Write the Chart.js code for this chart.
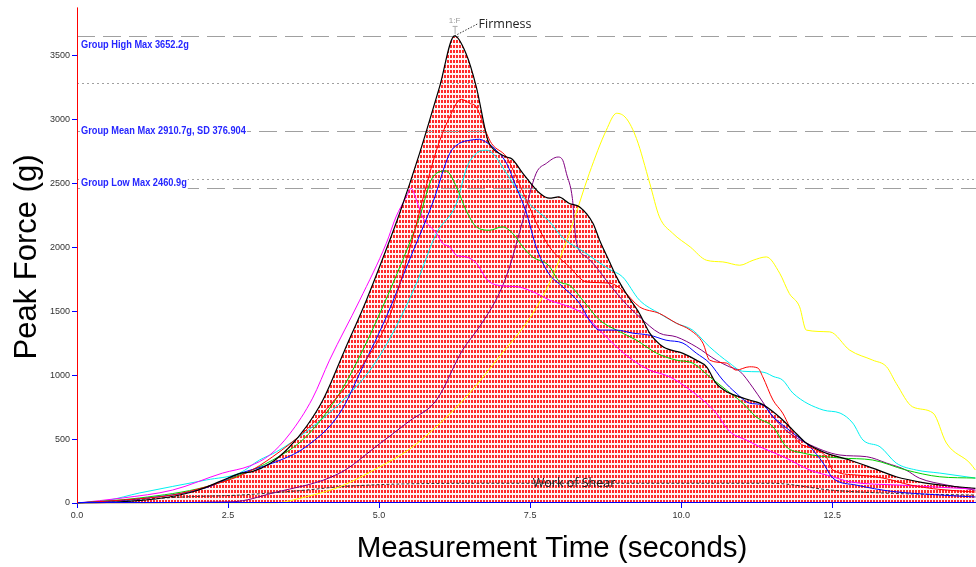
<!DOCTYPE html>
<html>
<head>
<meta charset="utf-8">
<script src="https://cdn.jsdelivr.net/npm/chart.js@4.4.1/dist/chart.umd.min.js"></script>
<style>
  html, body { margin: 0; padding: 0; background: #fff; }
  #wrap { width: 976px; height: 567px; position: relative; }
</style>
</head>
<body>
<div id="wrap"><canvas id="forceChart"></canvas></div>
<script>
// Group statistics (g)
const groupHigh = 3652.2;
const groupMean = 2910.7;
const groupSD = 376.904;
const groupLow = 2460.9;

// Force curves: [time (s), force (g)]
const blackCurve = [[0,0],[0.5,4],[1.0,18],[1.5,45],[2.0,100],[2.4,175],[2.7,232],[2.9,245],[3.2,310],[3.5,430],[3.8,600],[4.07,805],[4.43,1195],[4.79,1586],[5.1,1960],[5.34,2266],[5.67,2734],[6.0,3252],[6.25,groupHigh],[6.44,3513],[6.61,3252],[6.8,2836],[6.88,2773],[7.0,2730],[7.11,2705],[7.2,2690],[7.38,2578],[7.66,2422],[7.82,2383],[7.97,2393],[8.15,2342],[8.32,2315],[8.54,2187],[8.65,2055],[8.82,1880],[8.93,1768],[9.09,1638],[9.31,1482],[9.48,1328],[9.7,1221],[10.03,1170],[10.25,1117],[10.42,1065],[10.58,935],[10.8,859],[10.97,830],[11.13,805],[11.3,781],[11.41,752],[11.63,670],[11.85,570],[12.07,469],[12.4,390],[12.79,336],[13.17,273],[13.56,205],[14.0,160],[14.4,135],[14.87,115]];
const redCurve = [[0,0],[0.75,23],[1.58,62],[2.14,127],[2.8,234],[3.24,362],[3.79,570],[4.29,820],[4.73,1080],[5.17,1455],[5.5,1977],[5.95,2758],[6.15,3000],[6.36,3156],[6.5,3125],[6.61,3096],[6.78,2890],[6.86,2812],[7.11,2705],[7.22,2602],[7.44,2367],[7.66,2133],[7.82,2002],[8.15,1846],[8.43,1729],[8.82,1719],[9.03,1664],[9.31,1534],[9.64,1482],[9.92,1406],[10.15,1352],[10.36,1250],[10.47,1117],[10.75,1094],[10.91,1039],[11.13,1065],[11.27,1055],[11.35,987],[11.52,805],[11.68,703],[11.91,492],[12.24,414],[12.4,362],[12.51,258],[12.9,219],[13.34,195],[13.8,140],[14.3,105],[14.87,86]];
const greenCurve = [[0,0],[1.03,39],[2.14,127],[2.69,219],[3.24,336],[3.79,518],[4.35,860],[4.73,1195],[5.06,1534],[5.39,1898],[5.67,2237],[5.89,2549],[6.11,2596],[6.28,2471],[6.44,2289],[6.61,2159],[6.83,2133],[7.04,2159],[7.21,2109],[7.38,2002],[7.54,1924],[7.8,1860],[7.99,1729],[8.15,1703],[8.37,1586],[8.65,1430],[8.93,1352],[9.26,1273],[9.59,1172],[9.92,1117],[10.19,1094],[10.47,987],[10.75,883],[11.02,781],[11.24,674],[11.52,596],[11.74,440],[12.02,390],[12.63,352],[13.17,336],[13.72,258],[14.28,205],[14.87,195]];
const blueCurve = [[0,0],[1.0,30],[2.14,120],[2.69,230],[3.24,312],[3.79,440],[4.35,703],[4.73,1065],[5.12,1455],[5.5,1898],[5.89,2350],[6.17,2734],[6.33,2812],[6.5,2836],[6.66,2844],[6.8,2812],[6.94,2758],[7.11,2656],[7.27,2471],[7.44,2266],[7.6,2002],[7.8,1800],[8.04,1690],[8.32,1560],[8.48,1430],[8.65,1352],[8.93,1352],[9.2,1328],[9.48,1312],[9.75,1273],[10.03,1250],[10.25,1172],[10.47,1094],[10.69,961],[10.91,859],[11.13,781],[11.35,766],[11.52,674],[11.85,547],[12.13,440],[12.35,312],[12.51,195],[12.9,140],[13.5,90],[14.2,65],[14.87,47]];
const cyanCurve = [[0,0],[0.5,20],[1.03,78],[2.14,180],[2.69,234],[3.02,336],[3.3,400],[3.8,560],[4.46,830],[4.89,1065],[5.28,1377],[5.62,1719],[5.95,2109],[6.28,2340],[6.45,2620],[6.61,2734],[6.78,2758],[6.88,2734],[7.11,2578],[7.33,2422],[7.54,2315],[7.8,2210],[8.05,2070],[8.4,1960],[8.8,1830],[9.03,1768],[9.31,1586],[9.64,1482],[9.92,1406],[10.19,1352],[10.47,1221],[10.8,1094],[11.02,1030],[11.3,1026],[11.41,1016],[11.52,990],[11.68,961],[11.85,859],[12.35,727],[12.63,703],[12.84,625],[13.01,492],[13.29,440],[13.56,312],[13.89,258],[14.28,234],[14.87,195]];
const magentaCurve = [[0,0],[0.75,39],[1.58,101],[2.41,234],[2.86,290],[3.19,375],[3.52,540],[3.9,820],[4.18,1117],[4.68,1586],[5.12,2031],[5.28,2237],[5.45,2393],[5.53,2461],[5.62,2367],[5.72,2237],[5.95,2109],[6.05,2031],[6.17,2002],[6.28,1937],[6.44,1924],[6.61,1875],[6.8,1740],[7.0,1700],[7.3,1690],[7.6,1640],[7.82,1586],[8.15,1534],[8.37,1482],[8.65,1352],[8.93,1221],[9.2,1117],[9.48,1039],[9.81,987],[10.15,883],[10.36,805],[10.58,703],[10.8,560],[11.08,492],[11.3,440],[11.7,360],[12.13,258],[12.51,205],[12.79,166],[13.61,140],[14.87,109]];
const purpleCurve = [[0,0],[2.58,10],[3.24,78],[4.35,234],[5.0,460],[5.5,640],[5.95,805],[6.38,1195],[6.66,1377],[7.0,1650],[7.16,1846],[7.38,2211],[7.6,2578],[7.77,2656],[7.96,2705],[8.04,2680],[8.1,2578],[8.2,2380],[8.26,2055],[8.43,1924],[8.54,1875],[8.76,1742],[9.03,1586],[9.31,1455],[9.64,1328],[9.92,1299],[10.25,1221],[10.58,1117],[10.8,1065],[10.97,1030],[11.19,900],[11.35,790],[11.52,674],[11.79,547],[12.07,469],[12.63,375],[13.07,362],[13.4,312],[13.72,258],[13.94,195],[14.4,140],[14.87,100]];
const yellowCurve = [[0,0],[3.24,0],[3.8,50],[4.35,127],[5.0,280],[5.5,420],[6.0,620],[6.5,860],[7.0,1150],[7.5,1450],[7.82,1719],[8.15,2109],[8.48,2578],[8.76,2914],[8.93,3047],[9.09,3008],[9.26,2850],[9.48,2500],[9.64,2237],[9.86,2109],[10.15,2002],[10.42,1898],[10.69,1885],[10.97,1859],[11.19,1898],[11.41,1924],[11.63,1797],[11.79,1638],[11.96,1534],[12.07,1352],[12.46,1338],[12.79,1195],[13.17,1117],[13.4,1065],[13.56,935],[13.83,752],[14.17,703],[14.39,469],[14.78,312],[14.87,258]];
const shearCurve = [[0,0],[0.37,10],[1.86,49],[2.69,62],[3.79,101],[4.35,127],[5.5,150],[7.0,154],[11.5,154],[12.5,100],[13.5,75],[14.87,62]];

// Axis settings
const timeMax = 14.88;
const forceMax = 3875;
const timeStep = 2.5;
const forceStep = 500;

const toXY = arr => arr.map(p => ({ x: p[0], y: p[1] }));

// Red dotted hatch used under the main curve
const canvas = document.getElementById('forceChart');
const hatchCanvas = document.createElement('canvas');
hatchCanvas.width = 3;
hatchCanvas.height = 5;
const hctx = hatchCanvas.getContext('2d');
hctx.fillStyle = '#fff4f4';
hctx.fillRect(0, 0, 3, 5);
hctx.fillStyle = '#ff2a2a';
hctx.fillRect(0, 0, 2, 3);
const hatch = canvas.getContext('2d').createPattern(hatchCanvas, 'repeat');

function curve(data, color, order, width) {
    return {
        data: toXY(data),
        borderColor: color,
        borderWidth: width || 1,
        pointRadius: 0,
        fill: false,
        cubicInterpolationMode: 'monotone',
        order: order
    };
}

function refLine(ctx, area, y, dash) {
    const yy = Math.round(y) + 0.5;
    ctx.save();
    ctx.strokeStyle = '#a0a0a0';
    ctx.lineWidth = 1;
    ctx.setLineDash(dash);
    ctx.beginPath();
    ctx.moveTo(area.left, yy);
    ctx.lineTo(area.right, yy);
    ctx.stroke();
    ctx.restore();
}

function groupLabel(ctx, text, x, y) {
    ctx.save();
    ctx.font = 'bold 11px "Liberation Sans", Arial, sans-serif';
    const w = ctx.measureText(text).width * 0.84;
    ctx.fillStyle = '#fff';
    ctx.fillRect(x - 1, y - 6, w + 2, 12);
    ctx.translate(x, y);
    ctx.scale(0.84, 1);
    ctx.fillStyle = '#2626ff';
    ctx.textBaseline = 'middle';
    ctx.fillText(text, 0, 0);
    ctx.restore();
}

const overlay = {
    id: 'overlay',
    afterDatasetDraw(chart, args) {
        if (args.index !== 0) return;
        const ctx = chart.ctx, area = chart.chartArea, ys = chart.scales.y;
        refLine(ctx, area, ys.getPixelForValue(groupHigh), [18, 8]);
        refLine(ctx, area, ys.getPixelForValue(groupMean + groupSD), [2, 3]);
        refLine(ctx, area, ys.getPixelForValue(groupMean), [18, 8]);
        refLine(ctx, area, ys.getPixelForValue(groupMean - groupSD), [2, 3]);
        refLine(ctx, area, ys.getPixelForValue(groupLow), [18, 8]);
    },
    afterDraw(chart) {
        const ctx = chart.ctx, area = chart.chartArea;
        const xs = chart.scales.x, ys = chart.scales.y;
        const lx = area.left + 4;

        // axis lines: red force axis, blue time axis
        ctx.save();
        ctx.lineWidth = 1;
        ctx.strokeStyle = '#0000ff';
        ctx.beginPath();
        ctx.moveTo(area.left, Math.floor(area.bottom) - 0.5);
        ctx.lineTo(area.right, Math.floor(area.bottom) - 0.5);
        ctx.stroke();
        ctx.strokeStyle = '#ff0000';
        ctx.beginPath();
        ctx.moveTo(Math.floor(area.left) + 0.5, area.top);
        ctx.lineTo(Math.floor(area.left) + 0.5, area.bottom);
        ctx.stroke();
        ctx.restore();

        groupLabel(ctx, 'Group High Max ' + groupHigh.toFixed(1) + 'g', lx, ys.getPixelForValue(groupHigh) + 9);
        groupLabel(ctx, 'Group Mean Max ' + groupMean.toFixed(1) + 'g, SD ' + groupSD.toFixed(3), lx, ys.getPixelForValue(groupMean));
        groupLabel(ctx, 'Group Low Max ' + groupLow.toFixed(1) + 'g', lx, ys.getPixelForValue(groupLow) - 5);

        // Firmness marker at the peak
        const px = xs.getPixelForValue(6.25), py = ys.getPixelForValue(groupHigh);
        ctx.save();
        ctx.fillStyle = '#999';
        ctx.font = '8px "Liberation Sans", Arial, sans-serif';
        ctx.textAlign = 'center';
        ctx.textBaseline = 'middle';
        ctx.fillText('1:F', px, py - 15);
        ctx.strokeStyle = '#aaa';
        ctx.beginPath();
        ctx.moveTo(px + 0.5, py - 9);
        ctx.lineTo(px + 0.5, py - 2);
        ctx.moveTo(px - 2, py - 9.5);
        ctx.lineTo(px + 3, py - 9.5);
        ctx.stroke();
        ctx.strokeStyle = '#333';
        ctx.setLineDash([1.5, 1.5]);
        ctx.beginPath();
        ctx.moveTo(px, py);
        ctx.lineTo(px + 23, py - 12);
        ctx.stroke();
        ctx.setLineDash([]);
        ctx.fillStyle = '#222';
        ctx.textAlign = 'left';
        ctx.font = '12.5px "Open Sans", "Liberation Sans", sans-serif';
        ctx.fillText('Firmness', px + 24, py - 11);

        // Work of shear label
        ctx.font = '12.5px "Open Sans", "Liberation Sans", sans-serif';
        ctx.textAlign = 'center';
        ctx.fillStyle = '#222';
        ctx.fillText('Work of Shear', 574, ys.getPixelForValue(154));

        // Axis titles
        ctx.fillStyle = '#000';
        ctx.font = '29.5px "Liberation Sans", Arial, sans-serif';
        ctx.fillText('Measurement Time (seconds)', 552, 549);
        ctx.font = '31px "Liberation Sans", Arial, sans-serif';
        ctx.translate(27, 257);
        ctx.rotate(-Math.PI / 2);
        ctx.fillText('Peak Force (g)', 0, 0);
        ctx.restore();
    }
};

new Chart(canvas, {
    type: 'line',
    data: {
        datasets: [
            {
                data: toXY(blackCurve),
                borderWidth: 0,
                pointRadius: 0,
                fill: 'origin',
                backgroundColor: hatch,
                cubicInterpolationMode: 'monotone',
                order: 20
            },
            Object.assign(curve(shearCurve, '#333', 12), { borderDash: [3, 2] }),
            curve(yellowCurve, '#ffff00', 10),
            curve(purpleCurve, '#800080', 9),
            curve(cyanCurve, '#00f0f0', 8),
            curve(magentaCurve, '#ff00ff', 7),
            curve(greenCurve, '#00d000', 6),
            curve(blueCurve, '#0000ff', 5),
            curve(redCurve, '#ff0000', 4),
            curve(blackCurve, '#000000', 1, 1.2)
        ]
    },
    options: {
        responsive: true,
        maintainAspectRatio: false,
        animation: false,
        layout: { padding: { top: 7, right: 0, left: 0, bottom: 0 } },
        plugins: {
            legend: { display: false },
            tooltip: { enabled: false }
        },
        scales: {
            x: {
                type: 'linear',
                min: 0,
                max: timeMax,
                afterFit: s => { s.height = 64; },
                ticks: {
                    stepSize: timeStep,
                    includeBounds: false,
                    color: '#333',
                    padding: 2,
                    maxRotation: 0,
                    font: { family: '"Liberation Sans", Arial, sans-serif', size: 9 },
                    callback: v => v.toFixed(1)
                },
                grid: { drawOnChartArea: false, tickLength: 5, tickColor: '#0000ff' },
                border: { display: false }
            },
            y: {
                type: 'linear',
                bounds: 'data',
                // range set after data limits so the 500 g steps stay fixed
                afterDataLimits: s => { s.min = 0; s.max = forceMax; },
                afterBuildTicks: s => { s.ticks = s.ticks.filter(t => t.value % forceStep === 0); },
                afterFit: s => { s.width = 77; },
                ticks: {
                    stepSize: forceStep,
                    autoSkip: false,
                    color: '#333',
                    padding: 2,
                    font: { family: '"Liberation Sans", Arial, sans-serif', size: 9 },
                    callback: v => String(v)
                },
                grid: { drawOnChartArea: false, tickLength: 5, tickColor: '#0000ff' },
                border: { display: false }
            }
        }
    },
    plugins: [overlay]
});
</script>
</body>
</html>
